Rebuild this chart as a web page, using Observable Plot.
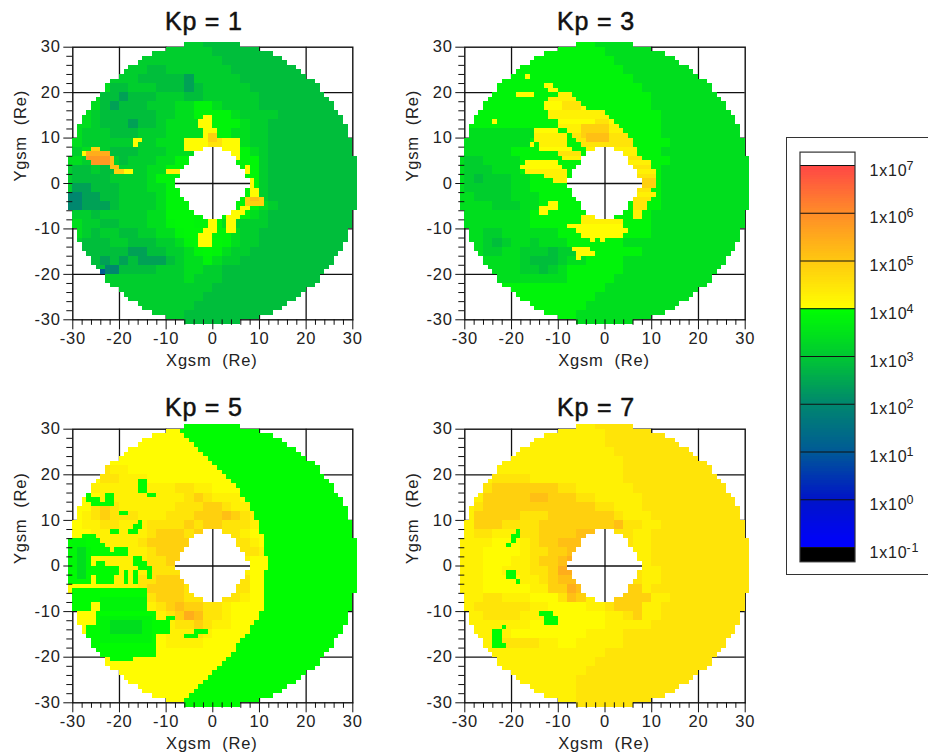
<!DOCTYPE html>
<html><head><meta charset="utf-8">
<script src="https://cdn.jsdelivr.net/npm/d3@7"></script>
<script src="https://cdn.jsdelivr.net/npm/@observablehq/plot@0.6"></script>
<style>
html,body{margin:0;padding:0;background:#fff;}
#page{position:relative;width:928px;height:754px;overflow:hidden;background:#fff;font-family:"Liberation Sans",Arial,sans-serif;}
#page svg{position:absolute;background:transparent;overflow:visible;}
#page svg text{letter-spacing:.8px;}
#box{position:absolute;left:786px;top:137px;width:142px;height:438px;border:1.5px solid #333;border-right:none;box-sizing:border-box;}
</style></head><body><div id="page"><div id="box"></div></div>
<script>
// log10 flux scale of the colour bar
const stopValues=[-1,0,1,2,3,3.999,4.001,5,6,7];
const stopColors=["#0000ff","#0014c8","#005a96","#00876e","#00c832","#00ff00","#ffff00","#ffc810","#ff8c28","#ff4646"];
// level letters used in the cell tables
const levelCodes="zabcdepfqghijklmno";
const levelValues=[1.1,1.5,2.0,2.4,2.85,3.1,3.4,3.8,3.85,3.95,4.05,4.25,4.5,4.85,5.15,5.45,5.8,6.2];
// half-width of the disc and of the central hole per 1 Re row, from y=0 outward
const diskHalf=[31,31,31,31,31,31,30,30,30,30,29,29,29,28,28,27,26,26,25,24,23,23,22,20,19,18,16,15,13,10,6];
const holeHalf=[8,7,7,6,5,5,4,2];
const majorTicks=[-30,-20,-10,0,10,20,30];
const minorTicks=[-28,-26,-24,-22,-18,-16,-14,-12,-8,-6,-4,-2,2,4,6,8,12,14,16,18,22,24,26,28];
const gridLines=[-20,-10,0,10,20];
const barTicks=[-1,0,1,2,3,4,5,6,7];

// 2 Re cells, top row y=30..32, first column x=-32..-30; the last letter of a row repeats to the right
const kp1Grid=[
"eeeeeeeeeeeeeeed","eeeeeeeeeeeeeeeed","eeeeeeeeeeeeeeeeed","pppppeeeeddeeeeeeed",
"pppppeeedddddceeeeed","pppppddeeedddcdeeeeed","ppppddcdddeeeddeeeeeed","ppppdcdddeeeppffpeeeed",
"pppeddddddeeppffffpeeeed","pppedddcddeppppffffpeed","ppeeedddeeeppppfffppeed","ppeeeeeeeepppppfffppeed",
"peppedddeeepppffffffped","ppeeeedeeeppffffffffqed","eddeddeeeppfffffffffqed","eddddeeeepffffffffffqed",
"eccdddeeeppfffffffffqed","ecccddeeeepffffffffffed","ebcccdeeeepffffffffffped","peedeeeeeppqqqffffffped",
"ppeeddeeeppfqqfffpeeeed","ppedeeddeeppfqqqffpeed","pedddeedddeepfqqqfpeed","pedddddccddeepfqfpeed",
"eeddcdcdcccdeppfpeed","eeeddcddddeeeppeed","eeeeeeeeeeeeepeeed","eeeeeeeeeeeeeeeed",
"eeeeeeeeeeeeeeed","eeeeeeeeeeeeeed","eeeeeeeeeeeeed","eeeeeeeeeeeeed"];
const kp1Patches=[
[-31,-28,-6,-2,"b"],[-2,0,14,15,"h"],[-3,0,12,14,"h"],[-2,1,10,12,"h"],[-6,6,8,10,"h"],[-6,-2,7,8,"h"],[2,6,6,8,"h"],[4,6,5,6,"h"],
[-1,2,8,10,"j"],[-1,1,9,11,"k"],[7,8,2,4,"h"],[8,9,-2,1,"h"],[8,10,-4,-1,"h"],[7,11,-5,-3,"k"],[8,10,-4,-3,"l"],
[6,8,-6,-5,"h"],[4,7,-7,-6,"h"],[3,6,-8,-7,"h"],[3,5,-11,-8,"h"],[-1,1,-10,-8,"h"],[-2,1,-11,-10,"h"],[-3,0,-14,-11,"h"],
[-10,-7,2,3,"i"],[-17,-16,8,10,"h"],[-16,-15,9,10,"h"],
[-26,-24,7,8,"k"],[-28,-27,6,7,"h"],[-27,-22,6,7,"m"],[-27,-22,5,6,"n"],[-26,-22,4,5,"n"],[-22,-21,4,6,"l"],
[-22,-20,3,4,"l"],[-21,-19,2,3,"k"],[-19,-17,2,3,"h"],[-25,-23,-21,-19,"z"],[-23,-20,-20,-18,"b"]];

const kp3Grid=[
"fffffffffffffffp","ffffffffffffffffp","fffffffffffffffffp","ffffffffffffffffffp",
"fffffffffffffffffffp","ffffffffffffffffffffp","fffffffffffffffffffffp","fffffffffffffffffffffp",
"ffffffffffffffffffffffp","ffffffffffffffffffffffp","fppppppppfffffffffffffp","ppppppppfffffffffffffffp",
"ppppppffffffffffffffffp","peeppppffffffffffffffffp","peeepppfffffffffffffffp","pedeeeppffffffffffffffp",
"peeeeeppffffffffffffffp","ppeeeepppfffffffffffffp","ppppeeeppfffffffffffffp","fpppppppfffffffffffffp",
"fpppppppfffffffffffffp","fppeeppppppffffffffffp","fppedeppepppffffffp","fppeeppeeedeepffffffp",
"ffpppppedddeppffffp","ffpppppeedepffffffp","ffffppppppppfffffp","ffffffffffffffffp",
"fffffffffffffffp","ffffffffffffffp","fffffffffffffp","fffffffffffffp"];
const kp3Patches=[
[-17,-16,23,24,"h"],[-13,-11,21,22,"h"],[-12,-10,20,21,"h"],[-19,-15,19,20,"h"],[-24,-23,13,14,"h"],
[-10,-7,19,20,"i"],[-12,-6,18,19,"i"],[-13,-5,17,18,"h"],[-13,-4,16,17,"h"],[-12,0,15,16,"i"],[-12,1,14,15,"i"],[-10,2,13,14,"h"],
[-10,3,12,13,"i"],[-8,4,11,12,"i"],[-7,5,10,11,"j"],[-6,6,9,10,"j"],[-5,6,8,9,"j"],[-4,7,7,8,"i"],[3,7,6,7,"i"],[4,8,5,6,"j"],
[5,10,4,5,"i"],[6,10,3,4,"j"],[7,11,2,3,"i"],[7,11,1,2,"j"],[8,11,0,1,"k"],[8,11,-1,0,"k"],[7,10,-2,-1,"j"],[7,11,-3,-2,"i"],
[6,10,-4,-3,"j"],[6,9,-6,-4,"j"],[6,8,-8,-6,"i"],
[-5,1,10,13,"k"],[-4,1,9,11,"l"],[-2,1,13,14,"j"],[-9,-5,16,18,"j"],
[-15,-10,11,12,"h"],[-15,-8,10,11,"i"],[-15,-8,9,10,"i"],[-16,-15,8,9,"h"],[-14,-8,8,9,"i"],[-14,-7,7,8,"h"],[-10,-5,6,7,"j"],[-9,-5,5,6,"i"],
[-17,-10,4,5,"h"],[-18,-9,3,4,"h"],[-17,-8,2,3,"i"],[-13,-8,1,2,"i"],[-11,-8,0,1,"i"],
[-5,2,-8,-7,"i"],[-5,4,-9,-8,"i"],[-8,4,-10,-9,"h"],[-6,5,-11,-10,"h"],[-5,4,-12,-11,"h"],[-3,-2,-13,-12,"h"],[-1,0,-13,-12,"h"],
[-14,-12,-7,-5,"h"],[-12,-10,-6,-4,"h"],[-7,-3,-15,-14,"h"],[-6,-2,-16,-15,"h"],[-6,-5,-17,-16,"h"]];

const kp5Grid=[
"h","h","h","h","h","hhhhjiihhh","hhhhjjiiihhhh","hhhiiiiiiiiijjiih",
"hhhhiiiiiiiiijkjiiih","hhhjkjiiiiiijjjkkjiih","hhijkjjjiiijjjkkklkjih","hhiijjiiijjjjkjkkjjjih",
"hhhiiiiiijkkkjkkkjjih","hhhhiiiijkkkkkkjjjjjih","hhhhiiiiijkkkkkkjjjjjih","hhhhiiiiijjkkkjjjjjih",
"hhhhhhiiijjjjjjjjjjih","hhhhiiiijjkkkkjjjijjh","hhhhiiiijkkkkjjjjjjjh","hhhhhhiiijkkkjjkkjjih",
"hhhhhiiiiijklkkjjih","hhhhhhhhiiijkmljjih","hhhhhhhhhhiijjkjiih","hhhhhhhhhhhiiijih",
"hhhhhhhhhhhiiiih","h","h","h","h","h","h","h"];
const kp5Patches=[
[-16,-14,16,19,"g"],[-14,-12,15,16,"g"],[-27,-26,14,17,"g"],[-27,-24,14,15,"g"],[-26,-21,13,14,"g"],[-23,-21,13,16,"g"],
[-20,-18,11,12,"g"],[-22,-20,7,8,"g"],[-18,-16,7,8,"g"],[-17,-15,8,9,"g"],[-16,-15,9,10,"g"],
[-28,-25,6,7,"g"],[-31,-24,5,6,"g"],[-31,-23,4,5,"g"],[-31,-22,3,4,"g"],[-21,-18,2,4,"g"],[-31,-20,2,3,"g"],[-31,-26,-4,2,"g"],
[-25,-23,0,1,"g"],[-26,-20,-2,0,"g"],[-25,-21,-4,-2,"g"],[-17,-15,0,2,"g"],[-16,-14,-1,1,"g"],[-14,-13,-3,0,"g"],[-19,-18,-4,-1,"g"],[-17,-16,-4,-1,"g"],
[-31,-26,-1,4,"q"],[-30,-27,1,6,"q"],[-29,-27,-3,4,"p"],
[-30,-14,-8,-5,"g"],[-30,-26,-10,-8,"g"],[-20,-14,-9,-8,"g"],[-25,-12,-12,-10,"g"],[-27,-12,-18,-12,"g"],[-12,-9,-15,-12,"g"],[-10,-8,-12,-11,"g"],
[-25,-12,-20,-18,"g"],[-22,-17,-21,-20,"g"],[-24,-14,-10,-7,"f"],[-24,-13,-17,-11,"f"],[-22,-15,-15,-12,"p"],
[-28,-25,-13,-12,"h"],[-6,-3,-16,-15,"g"],[-4,-1,-15,-14,"g"]];
const kp5Bow=[-7,-7,-6,-5,-4,-3,-2,-1,0,1,2,3,4,5,6,6,7,8,8,9,9,10,10,10,11,11,11,11,11,12,12,12,11,11,11,11,11,11,11,11,11,10,10,9,8,8,7,6,5,5,4,3,2,1,0,-1,-2,-3,-4,-5,-6,-7];

const kp7Grid=[
"iiiiiiiiiiiiiiij","iiiiiiiiiiiiiiiij","iiiiiiiiiiiiiiiij","iiiiiiiiiiiiiiiiij",
"iiiiiiiiiiiiiiiiiij","iiiiiiiiiiiiiiiiiij","iiiijjjjiiiiiiiiiij","iiijkkkkkkkjjiiiiiij",
"iiikkkkkllkkkjjiiiiij","iijkkkkkkkkkkkkjjiiij","iikkkkkjjjkkkkkkkjiiij","iikkkjjjjkkkkkkkkljjiij",
"iijjiiijjkkkkllkkjjiij","iiiihhhijkkllllkkjjiij","iiihhhhijjkkllmlkkjiij","iiihhhiijkklmmllkjjiij",
"iiihhiiijjkmmmlllkjjiij","iiihhhhiijkllmlllkkjiij","iiihhhhhiikkmlllkkkkijj","iiijjiiihhhjlkiiikkkkiij",
"iijjjjjjiihhhhiijkkkiij","iiijjjjiiihhhhhhiijkiij","iiiiiiiihhhhhhhhiiiiij","iiiiiihhhhhhhhiiiij",
"iiiijjjjjiihhiiiiij","iiiiiiiiiiiiiiiij","iiiiiiiiiiiiiiij","iiiiiiiiiiiiiij",
"iiiiiiiiiiiiij","iiiiiiiiiiiiij","iiiiiiiiiiiiij","iiiiiiiiiiiiij"];
const kp7Patches=[
[-19,-18,7,8,"g"],[-20,-18,6,7,"g"],[-20,-19,5,6,"g"],[-21,-20,4,5,"g"],
[-21,-19,-3,-1,"g"],[-19,-18,-4,-3,"g"],[-14,-11,-11,-10,"g"],[-13,-10,-13,-11,"g"],
[-24,-22,-18,-14,"g"],[-22,-21,-14,-13,"g"],[-22,-21,-18,-17,"g"]];

const panels=[
{title:"Kp = 1",grid:kp1Grid,patches:kp1Patches,left:0,top:0,ml:72.3,mr:39.7,w:392,h:376,mt:46.7,mb:56.7,dyT:-17.7},
{title:"Kp = 3",grid:kp3Grid,patches:kp3Patches,left:392,top:0,ml:72.3,mr:39.3,w:392,h:376,mt:46.7,mb:56.7,dyT:-17.7},
{title:"Kp = 5",grid:kp5Grid,patches:kp5Patches,bow:kp5Bow,left:0,top:376,ml:72.3,mr:39.7,w:392,h:378,mt:52.7,mb:51.7,dyT:-13.7},
{title:"Kp = 7",grid:kp7Grid,patches:kp7Patches,left:392,top:376,ml:72.3,mr:39.3,w:392,h:378,mt:52.7,mb:51.7,dyT:-13.7}];

const value=c=>levelValues[levelCodes.indexOf(c)];
const colorScale={type:"linear",domain:stopValues,range:stopColors,interpolate:"rgb"};

function cells(p){
  const out=[];
  for(let y=30;y>=-31;y--){
    const ri=y>=0?y:-y-1, hw=diskHalf[ri], hh=ri<holeHalf.length?holeHalf[ri]:0;
    const row=p.grid[Math.min(Math.floor((31-y)/2),p.grid.length-1)];
    for(let x=-hw;x<hw;x++){
      if(hh&&x>=-hh&&x<hh)continue;
      const c=Math.floor((x+32)/2);
      let code=row[Math.min(c,row.length-1)];
      for(const q of p.patches){if(x>=q[0]&&x<q[1]&&y>=q[2]&&y<q[3])code=q[4];}
      if(p.bow&&x>=p.bow[30-y])code="g";
      out.push({x,y,v:value(code)});
    }
  }
  return out;
}

const page=document.getElementById("page");
const txt=d=>String(d);
for(const p of panels){
  const svg=Plot.plot({
    width:p.w,height:p.h,marginLeft:p.ml,marginRight:p.mr,marginTop:p.mt,marginBottom:p.mb,
    x:{domain:[-30,30]},y:{domain:[-30,30]},color:colorScale,
    style:{fontFamily:"'Liberation Sans',Arial,sans-serif",fontSize:"16.5px",color:"#111",background:"transparent"},
    marks:[
      Plot.ruleX(gridLines,{stroke:"#111",strokeWidth:1.3}),
      Plot.ruleY(gridLines,{stroke:"#111",strokeWidth:1.3}),
      Plot.frame({stroke:"#111",strokeWidth:1.4}),
      Plot.rect(cells(p),{x1:"x",x2:d=>d.x+1,y1:"y",y2:d=>d.y+1,fill:"v",shapeRendering:"crispEdges"}),
      Plot.axisX({ticks:majorTicks,tickSize:10,tickPadding:2,tickFormat:txt,label:null,anchor:"bottom",stroke:"#111",fill:"#222",fontSize:16.5}),
      Plot.axisX({ticks:minorTicks,tickSize:5.5,tickFormat:()=>"",label:null,anchor:"bottom",stroke:"#111"}),
      Plot.axisY({ticks:majorTicks,tickSize:9,tickPadding:3,tickFormat:txt,label:null,anchor:"left",stroke:"#111",fill:"#222",fontSize:16.5}),
      Plot.axisY({ticks:minorTicks,tickSize:6,tickFormat:()=>"",label:null,anchor:"left",stroke:"#111"}),
      Plot.text([p.title],{text:d=>d,frameAnchor:"top",lineAnchor:"bottom",dx:-9,dy:p.dyT,fontSize:25,fill:"#111",stroke:"#111",strokeWidth:0.5}),
      Plot.text(["Xgsm\u00a0\u00a0(Re)"],{text:d=>d,frameAnchor:"bottom",lineAnchor:"bottom",dx:-1,dy:46,fontSize:16.5,fill:"#222",stroke:"none"}),
      Plot.text(["Ygsm\u00a0\u00a0(Re)"],{text:d=>d,frameAnchor:"left",rotate:-90,dx:-52,dy:-2,fontSize:16.5,fill:"#222",stroke:"none"})
    ]});
  svg.style.left=p.left+"px";svg.style.top=p.top+"px";
  page.appendChild(svg);
}
const barSteps=d3.range(-1,7,0.05);
const bar=Plot.plot({
  width:142,height:440,marginLeft:14,marginRight:73,marginTop:28,marginBottom:30,
  x:{domain:[0,1],axis:null},y:{domain:[-1,7],axis:null},color:colorScale,
  style:{fontFamily:"'Liberation Sans',Arial,sans-serif",background:"transparent"},
  marks:[
    Plot.rect(barSteps,{x1:0,x2:1,y1:d=>d,y2:d=>d+0.06,fill:d=>d+0.025,shapeRendering:"crispEdges"}),
    Plot.rect([-1],{x1:0,x2:1,y1:-1.31,y2:-1,fill:"#000",shapeRendering:"crispEdges"}),
    Plot.rect([7],{x1:0,x2:1,y1:7,y2:7.27,fill:"#fff"}),
    Plot.ruleY(barTicks,{x1:0,x2:1,stroke:"#111",strokeWidth:1.2}),
    Plot.rect([0],{x1:0,x2:1,y1:-1.31,y2:7.27,fill:"none",stroke:"#333",strokeWidth:1.2}),
    Plot.text(barTicks,{x:1,y:d=>d,text:()=>"1x10",textAnchor:"start",dx:14,dy:5,fontSize:16,fill:"#222"}),
    Plot.text(barTicks,{x:1,y:d=>d,text:d=>String(d),textAnchor:"start",dx:51,dy:0,fontSize:12.5,fill:"#222"})
  ]});
bar.style.left="786px";bar.style.top="137px";
page.appendChild(bar);
const st=document.createElement("style");
st.textContent='#page svg g[aria-label="rect"]{filter:blur(.45px);}';
document.head.appendChild(st);
</script></body></html>
